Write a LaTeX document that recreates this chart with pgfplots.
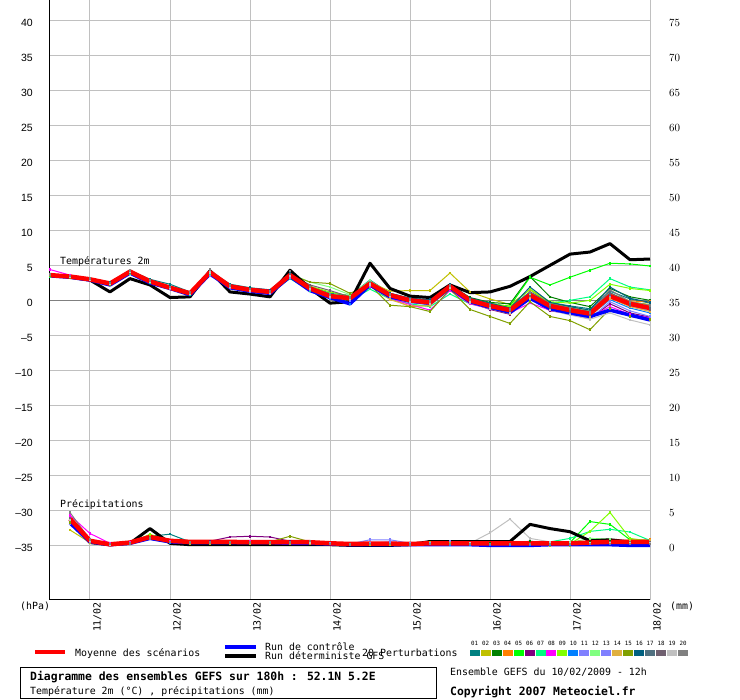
\documentclass[border=0pt]{standalone}
\usepackage{pgfplots}
\pgfplotsset{compat=1.18}
\usepackage{pgfplotstable}
\usepackage{fontspec}
\setmainfont{DejaVu Sans Mono}
\newfontfamily\tickfont{Liberation Sans}
\newcommand\lf{\fontsize{9.9}{11}\selectfont}
\newcommand\tf{\fontsize{11.4}{13}\selectfont\bfseries}
\newcommand\nf{\fontsize{5.8}{6}\selectfont}
\definecolor{c01}{HTML}{008080}
\definecolor{c02}{HTML}{C0C000}
\definecolor{c03}{HTML}{008000}
\definecolor{c04}{HTML}{FF8000}
\definecolor{c05}{HTML}{00FF00}
\definecolor{c06}{HTML}{800080}
\definecolor{c07}{HTML}{00FF80}
\definecolor{c08}{HTML}{FF00FF}
\definecolor{c09}{HTML}{80FF00}
\definecolor{c10}{HTML}{0080FF}
\definecolor{c11}{HTML}{8080FF}
\definecolor{c12}{HTML}{80FF80}
\definecolor{c13}{HTML}{8080FF}
\definecolor{c14}{HTML}{E0B040}
\definecolor{c15}{HTML}{80A000}
\definecolor{c16}{HTML}{006080}
\definecolor{c17}{HTML}{507080}
\definecolor{c18}{HTML}{706070}
\definecolor{c19}{HTML}{C0C0C0}
\definecolor{c20}{HTML}{808080}
\definecolor{gridc}{HTML}{C0C0C0}
\definecolor{zeroc}{HTML}{808080}
\definecolor{meanc}{HTML}{FF0000}
\definecolor{ctrlc}{HTML}{0000FF}

% temperature 2m (degC), one row per series, one column per 6 h step
\pgfplotstableread{
name c0 c1 c2 c3 c4 c5 c6 c7 c8 c9 c10 c11 c12 c13 c14 c15 c16 c17 c18 c19 c20 c21 c22 c23 c24 c25 c26 c27 c28 c29 c30
t 0 6 12 18 24 30 36 42 48 54 60 66 72 78 84 90 96 102 108 114 120 126 132 138 144 150 156 162 168 174 180
mean 3.6 3.4 3.0 2.4 4.1 2.7 1.8 1.0 4.0 2.0 1.5 1.2 3.6 1.7 0.6 0.3 2.4 0.75 0.0 -0.3 2.0 0.0 -0.8 -1.4 0.75 -0.8 -1.4 -1.9 0.6 -0.5 -1.1
det 3.6 3.3 2.9 1.2 3.1 2.2 0.4 0.5 4.2 1.2 0.9 0.5 4.3 1.7 -0.4 -0.2 5.3 1.7 0.6 0.4 2.2 1.1 1.2 2.0 3.4 5.0 6.6 6.9 8.1 5.8 5.9
ctrl 3.5 3.3 2.9 2.2 3.9 2.5 1.7 0.8 3.8 1.8 1.3 1.0 3.4 1.4 0.4 -0.5 2.2 0.5 -0.1 -0.4 1.8 -0.2 -1.0 -1.7 0.3 -1.2 -1.8 -2.3 -1.4 -2.1 -2.8
m01 3.7 3.5 3.1 2.6 4.3 3.0 2.3 1.2 4.2 2.3 1.8 1.5 3.8 2.0 1.0 0.7 2.9 1.0 0.3 0.0 2.3 0.3 -0.4 -1.0 1.2 -0.3 -0.8 -1.2 1.3 0.2 -0.4
m02 3.5 3.4 2.9 2.3 3.9 2.6 1.8 0.9 3.8 2.1 1.6 1.3 3.5 1.9 0.9 0.4 2.6 1.3 1.4 1.4 3.9 1.2 0.2 -0.6 1.5 -0.4 -1.0 -1.6 1.0 -0.2 -0.6
m03 3.6 3.4 3.0 2.5 4.2 2.8 1.9 1.1 4.1 2.1 1.6 1.3 3.9 1.8 0.7 0.4 2.6 0.9 0.2 -0.1 2.2 0.4 -0.3 -0.5 3.4 0.5 -0.3 -0.9 1.7 0.5 0.0
m04 3.5 3.3 2.9 2.3 4.0 2.6 1.7 0.9 3.9 1.9 1.3 1.0 3.5 1.5 0.4 0.1 2.2 0.3 -0.9 -0.7 1.8 -0.2 -1.0 -1.5 0.7 -0.6 -1.0 -1.5 1.0 -0.1 -0.2
m05 3.6 3.4 3.0 2.4 4.1 2.7 1.8 1.0 4.0 2.0 1.5 1.1 3.5 1.6 0.5 0.2 2.3 0.6 -0.1 -0.4 1.9 -0.1 -0.6 -0.8 3.3 2.2 3.3 4.3 5.3 5.2 4.9
m06 3.7 3.5 3.0 2.4 4.0 2.8 1.9 1.0 4.1 2.1 1.7 1.5 3.4 1.8 0.6 0.2 2.3 0.5 -0.2 -0.6 1.9 -0.3 -1.3 -2.0 0.3 -1.5 -1.9 -2.6 -0.5 -1.8 -2.4
m07 3.4 3.3 2.9 2.2 3.8 2.5 1.6 0.8 3.7 1.8 1.3 1.0 3.1 1.4 0.3 -0.1 1.6 0.2 -0.5 -0.9 0.9 -0.5 -1.1 -1.6 0.5 -0.4 0.0 0.5 3.1 1.9 1.5
m08 4.4 3.6 3.1 2.5 4.0 2.9 1.9 1.1 3.9 2.2 1.6 1.2 3.3 1.6 0.5 0.1 2.0 0.3 -0.6 -1.4 1.4 -0.5 -1.2 -1.8 -0.4 -1.4 -2.0 -2.4 -0.9 -2.0 -2.5
m09 3.6 3.4 3.0 2.4 4.2 2.7 1.9 1.0 4.0 2.0 1.5 1.2 3.7 2.0 1.2 0.6 2.5 0.8 0.1 -0.2 2.1 0.2 -0.4 -0.9 1.6 -0.2 -0.4 0.0 2.3 1.7 1.4
m10 3.5 3.3 2.9 2.3 4.0 2.6 1.7 0.9 3.9 1.9 1.4 1.1 3.5 1.6 0.3 -0.5 2.3 0.5 -0.3 -0.6 2.0 -0.2 -0.9 -1.6 0.8 -1.0 -1.7 -2.2 0.1 -1.1 -1.8
m11 3.5 3.3 2.9 2.3 3.9 2.6 1.7 0.9 3.5 1.8 1.3 1.0 3.3 1.5 0.4 0.0 2.1 0.4 -0.3 -0.6 1.6 -0.3 -1.1 -1.9 0.2 -1.2 -1.9 -2.6 -0.2 -1.5 -2.3
m12 3.6 3.4 3.0 2.4 4.1 2.8 1.9 1.1 4.0 2.1 1.6 1.3 3.8 2.6 1.9 0.8 2.8 0.9 0.1 -0.2 2.2 0.1 -0.7 -1.3 1.0 -0.6 -1.1 -1.5 0.9 -0.4 -0.8
m13 3.6 3.4 3.0 2.5 4.0 2.7 1.8 1.0 4.0 2.0 1.5 1.2 3.6 1.7 0.6 0.3 2.4 0.7 0.0 -0.3 2.0 0.0 -0.8 -1.5 0.6 -0.9 -1.5 -2.0 0.4 -0.8 -1.5
m14 3.5 3.3 2.9 2.3 4.0 2.6 1.8 0.9 3.9 1.9 1.4 1.1 3.5 1.6 0.5 0.2 2.3 0.1 -0.8 -0.8 1.7 -0.4 -1.2 -1.9 0.5 -1.0 -1.6 -2.3 0.3 -0.9 -1.6
m15 3.5 3.3 2.9 2.3 4.1 2.7 1.8 1.0 4.0 2.0 1.5 1.2 3.7 2.6 2.4 1.0 2.2 -0.7 -0.9 -1.6 1.6 -1.3 -2.3 -3.3 -0.2 -2.3 -2.9 -4.2 -1.2 -2.3 -2.7
m16 3.6 3.4 3.0 2.5 4.2 2.9 2.0 1.2 4.1 2.2 1.7 1.4 3.8 1.9 0.8 0.5 2.6 1.0 0.3 0.1 2.3 0.3 -0.4 -1.1 1.9 -0.3 -0.9 -1.4 1.9 0.3 -0.3
m17 3.7 3.4 3.0 2.4 4.1 2.8 1.9 1.1 4.1 2.1 1.6 1.3 3.7 1.8 0.7 0.4 2.5 0.8 0.1 -0.2 2.0 0.1 -0.6 -1.2 1.2 -0.5 -1.1 -1.6 1.1 -0.3 -0.9
m18 3.6 3.4 3.0 2.4 4.0 2.7 1.8 1.0 4.1 2.0 1.5 1.2 3.7 2.2 1.4 0.5 2.4 0.6 -0.1 -0.4 1.9 -0.1 -0.9 -1.6 0.6 -1.0 -1.6 -2.1 0.8 -0.7 -1.3
m19 3.6 3.4 3.0 2.4 4.1 2.7 1.8 1.0 4.0 1.9 1.4 1.1 3.5 1.6 0.5 0.2 2.3 0.6 -0.2 -0.5 1.8 -0.3 -1.2 -1.8 0.2 -1.4 -2.1 -2.7 -1.8 -2.8 -3.5
m20 3.7 3.5 3.1 2.5 4.3 2.8 1.9 1.1 4.4 2.1 1.6 1.3 4.2 1.9 0.8 0.4 2.6 0.8 0.1 -0.2 2.1 0.1 -0.7 -1.3 1.1 -0.6 -1.2 -1.7 1.5 -0.2 -0.7
}\traw
\pgfplotstabletranspose[colnames from=name]\temps{\traw}

% precipitation (mm), one row per series
\pgfplotstableread{
name c0 c1 c2 c3 c4 c5 c6 c7 c8 c9 c10 c11 c12 c13 c14 c15 c16 c17 c18 c19 c20 c21 c22 c23 c24 c25 c26 c27 c28 c29
t 6 12 18 24 30 36 42 48 54 60 66 72 78 84 90 96 102 108 114 120 126 132 138 144 150 156 162 168 174 180
mean 3.8 0.65 0.15 0.4 1.2 0.65 0.5 0.5 0.5 0.45 0.45 0.45 0.45 0.3 0.2 0.25 0.25 0.2 0.3 0.3 0.3 0.3 0.3 0.3 0.3 0.3 0.4 0.5 0.5 0.5
det 3.5 0.4 0.1 0.3 2.4 0.3 0.1 0.1 0.1 0.1 0.1 0.1 0.1 0.1 0.0 0.0 0.0 0.1 0.55 0.55 0.55 0.55 0.55 3.0 2.4 1.95 0.65 0.8 0.5 0.5
ctrl 3.2 0.5 0.1 0.3 1.0 0.5 0.4 0.4 0.4 0.4 0.4 0.3 0.3 0.2 0.1 0.1 0.1 0.1 0.1 0.1 0.1 0.0 0.0 0.0 0.1 0.1 0.1 0.1 0.0 0.0
p01 3.6 0.8 0.2 0.4 1.3 1.6 0.5 0.5 0.4 0.4 0.4 0.4 0.3 0.2 0.1 0.2 0.2 0.1 0.2 0.2 0.2 0.2 0.2 0.1 0.1 0.1 0.3 0.5 0.4 0.3
p02 2.2 0.4 0.1 0.2 1.5 0.4 0.3 0.3 0.3 0.3 0.3 0.3 0.3 0.2 0.1 0.1 0.1 0.2 0.5 0.3 0.2 0.1 0.1 0.1 0.0 0.0 0.2 0.3 0.2 0.3
p03 4.0 0.7 0.1 0.3 1.1 0.5 0.4 0.4 0.4 0.4 0.4 0.4 0.4 0.2 0.1 0.2 0.2 0.1 0.2 0.2 0.3 0.3 0.2 0.6 0.3 0.2 0.4 0.6 0.5 0.4
p04 3.9 0.6 0.1 0.3 0.9 0.4 0.5 0.5 0.4 0.4 0.4 0.4 0.4 0.2 0.1 0.3 0.3 0.2 0.2 0.2 0.2 0.2 0.2 0.2 0.3 0.2 0.3 0.4 0.8 0.8
p05 3.7 0.6 0.1 0.3 1.2 0.5 0.4 0.4 0.4 0.4 0.4 0.4 0.4 0.2 0.1 0.2 0.2 0.1 0.2 0.2 0.2 0.2 0.2 0.2 0.3 0.4 3.4 3.0 0.8 0.3
p06 3.8 0.7 0.1 0.3 1.0 0.5 0.5 0.6 1.2 1.3 1.2 0.6 0.4 0.2 0.1 0.2 0.2 0.1 0.2 0.2 0.2 0.2 0.2 0.2 0.2 0.2 0.3 0.4 0.4 0.4
p07 3.5 0.6 0.1 0.3 0.9 0.4 0.4 0.4 0.4 0.4 0.4 0.4 0.4 0.2 0.1 0.2 0.2 0.1 0.2 0.2 0.2 0.2 0.2 0.2 0.5 1.0 2.0 2.3 1.9 0.7
p08 4.3 1.7 0.3 0.4 1.1 0.6 0.4 0.4 0.5 0.6 0.5 0.4 0.4 0.2 0.1 0.2 0.2 0.1 0.2 0.2 0.2 0.2 0.2 0.2 0.2 0.2 0.3 0.3 0.3 0.3
p09 3.8 0.6 0.1 0.3 1.6 0.5 0.4 0.4 0.4 0.4 0.4 0.4 0.4 0.2 0.1 0.2 0.2 0.1 0.2 0.2 0.2 0.2 0.2 0.2 0.2 0.2 2.0 4.7 1.0 0.6
p10 3.4 0.5 0.1 0.3 0.9 0.4 0.4 0.4 0.4 0.4 0.4 0.4 0.4 0.2 0.1 0.2 0.2 0.1 0.2 0.1 0.1 0.1 0.1 0.1 0.1 0.1 0.2 0.2 0.2 0.2
p11 3.1 0.5 0.1 0.3 1.0 0.5 0.4 0.4 0.4 0.4 0.5 0.5 0.5 0.3 0.2 0.8 0.8 0.3 0.2 0.2 0.2 0.2 0.2 0.2 0.2 0.2 0.3 0.3 0.3 0.3
p12 3.9 0.7 0.2 0.3 1.0 0.5 0.4 0.4 0.4 0.4 0.4 0.4 0.4 0.2 0.1 0.2 0.2 0.1 0.2 0.2 0.2 0.2 0.2 0.2 0.2 0.4 1.0 0.9 0.5 0.4
p13 3.6 0.6 0.1 0.3 1.0 0.5 0.4 0.4 0.4 0.4 0.4 0.4 0.4 0.2 0.1 0.3 0.5 0.2 0.3 0.6 0.3 0.2 0.2 0.2 0.2 0.2 0.3 0.3 0.3 0.3
p14 3.7 0.6 0.1 0.3 1.0 0.5 0.4 0.4 0.4 0.4 0.4 0.4 0.4 0.2 0.1 0.2 0.2 0.1 0.2 0.2 0.2 0.2 0.2 0.2 0.2 0.2 0.3 0.4 0.6 0.7
p15 3.3 0.6 0.1 0.3 1.1 0.5 0.4 0.4 0.4 0.4 0.5 1.3 0.5 0.2 0.1 0.2 0.2 0.1 0.2 0.2 0.2 0.2 0.2 0.2 0.2 0.2 0.3 0.4 0.4 0.4
p16 3.9 0.6 0.1 0.3 1.0 0.5 0.4 0.4 0.4 0.4 0.4 0.4 0.4 0.2 0.1 0.2 0.2 0.1 0.2 0.2 0.2 0.2 0.2 0.2 0.2 0.2 0.3 0.5 0.5 0.5
p17 3.8 0.6 0.1 0.3 1.0 0.5 0.4 0.4 0.4 0.4 0.4 0.4 0.4 0.2 0.1 0.2 0.2 0.1 0.2 0.2 0.2 0.2 0.2 0.2 0.2 0.2 0.3 0.5 0.5 0.5
p18 3.9 0.6 0.1 0.3 1.0 0.5 0.4 0.4 0.4 0.4 0.4 0.4 0.4 0.2 0.1 0.2 0.2 0.1 0.2 0.2 0.2 0.2 0.2 0.2 0.2 0.2 0.3 0.5 0.5 0.5
p19 3.6 0.6 0.1 0.3 1.0 0.5 0.4 0.4 0.4 0.4 0.4 0.4 0.4 0.2 0.1 0.2 0.2 0.1 0.2 0.2 0.3 1.8 3.75 1.0 0.5 0.3 0.3 0.3 0.3 0.3
p20 4.7 0.8 0.2 0.3 1.0 0.5 0.4 0.4 0.4 0.4 0.4 0.4 0.6 0.2 0.1 0.2 0.2 0.1 0.2 0.2 0.2 0.2 0.2 0.2 0.2 0.2 0.2 0.2 0.2 0.2
}\praw
\pgfplotstabletranspose[colnames from=name]\precs{\praw}

\begin{document}
\begin{tikzpicture}[x=1pt,y=1pt]
\path[use as bounding box] (0pt,0pt) rectangle (740pt,700pt);
% ---------- temperature axis (left scale) ----------
\begin{axis}[
  at={(50pt,100pt)}, anchor=south west,
  scale only axis, width=600pt, height=600pt,
  xmin=0, xmax=180, ymin=-42.8, ymax=42.9,
  axis x line*=bottom, axis y line*=left,
  axis line style={black, line width=1pt, -},
  major tick length=0pt,
  xtick={12,36,60,84,108,132,156,180},
  xticklabels={11/02,12/02,13/02,14/02,15/02,16/02,17/02,18/02},
  xticklabel style={xshift=7.5pt, rotate=90, anchor=east, inner sep=0pt, font=\lf},
  xticklabel shift=2pt,
  ytick={-35,-30,-25,-20,-15,-10,-5,0,5,10,15,20,25,30,35,40},
  yticklabels={–35,–30,–25,–20,–15,–10,–5,0,5,10,15,20,25,30,35,40},
  yticklabel style={font=\tickfont\fontsize{10.5}{12}\selectfont, anchor=east, inner sep=0pt, xshift=-17pt, yshift=-2.5pt},
  xmajorgrids, ymajorgrids,
  major grid style={gridc, line width=1pt},
  extra y ticks={0}, extra y tick labels={},
  extra y tick style={major grid style={zeroc, line width=1pt}},
]
\pgfplotsinvokeforeach{01,02,03,04,05,06,07,08,09,10,11,12,13,14,15,16,17,18,19,20}{
  \addplot[color=c#1, line width=1pt, mark=square*, mark size=0.8pt] table[x=t, y=m#1] {\temps};
}
\addplot[black, line width=3pt, line join=round] table[x=t, y=det] {\temps};
\addplot[ctrlc, line width=3.5pt, line join=round] table[x=t, y=ctrl] {\temps};
\addplot[meanc, line width=4.5pt, line join=round] table[x=t, y=mean] {\temps};
\end{axis}
% ---------- precipitation axis (right scale) ----------
\begin{axis}[
  at={(50pt,100pt)}, anchor=south west,
  scale only axis, width=600pt, height=600pt,
  xmin=0, xmax=180, ymin=-7.8, ymax=77.9,
  axis line style={draw=none},
  major tick length=0pt,
  xtick=\empty,
  ytick={0,5,10,15,20,25,30,35,40,45,50,55,60,65,70,75},
  ytick pos=right, yticklabel pos=right,
  yticklabel style={font=\tickfont\fontsize{10.5}{12}\selectfont, anchor=west, inner sep=0pt, xshift=19pt, yshift=-2.5pt},
]
\pgfplotsinvokeforeach{01,02,03,04,05,06,07,08,09,10,11,12,13,14,15,16,17,18,19,20}{
  \addplot[color=c#1, line width=1pt, mark=square*, mark size=0.8pt] table[x=t, y=p#1] {\precs};
}
\addplot[black, line width=3pt, line join=round] table[x=t, y=det] {\precs};
\addplot[ctrlc, line width=3.5pt, line join=round] table[x=t, y=ctrl] {\precs};
\addplot[meanc, line width=4.5pt, line join=round] table[x=t, y=mean] {\precs};
\end{axis}
% ---------- labels ----------
\node[anchor=base west, inner sep=0pt, font=\lf] at (60,435) {Températures 2m};
\node[anchor=base west, inner sep=0pt, font=\lf] at (60,192.7) {Précipitations};
\node[anchor=base west, inner sep=0pt, font=\lf] at (20,90.7) {(hPa)};
\node[anchor=base west, inner sep=0pt, font=\lf] at (670,90.7) {(mm)};
% ---------- legend ----------
\draw[meanc, line width=4pt] (35,48) -- (65,48);
\node[anchor=base west, inner sep=0pt, font=\lf] at (75,43.3) {Moyenne des scénarios};
\draw[ctrlc, line width=4pt] (225,53.3) -- (256,53.3);
\draw[black, line width=4pt] (225,44) -- (256,44);
\node[anchor=base west, inner sep=0pt, font=\lf] at (265,49.3) {Run de contrôle};
\node[anchor=base west, inner sep=0pt, font=\lf] at (265,40) {Run déterministe GFS};
\node[anchor=base west, inner sep=0pt, font=\lf] at (362,43.3) {20 Perturbations};
\foreach \i [count=\k from 0] in {01,02,03,04,05,06,07,08,09,10,11,12,13,14,15,16,17,18,19,20}{
  \fill[c\i] (469.7+10.97*\k,44) rectangle ++(10,6);
  \node[anchor=base, inner sep=0pt, font=\nf] at (474.7+10.97*\k,54) {\i};
}
\draw[black, line width=1pt] (20.7,1) rectangle (436.7,32.7);
\node[anchor=base west, inner sep=0pt, font=\tf] at (30,19) {Diagramme des ensembles GEFS sur 180h : 52.1N 5.2E};
\node[anchor=base west, inner sep=0pt, font=\lf] at (30,5) {Température 2m (°C) , précipitations (mm)};
\node[anchor=base west, inner sep=0pt, font=\lf] at (450,24) {Ensemble GEFS du 10/02/2009 - 12h};
\node[anchor=base west, inner sep=0pt, font=\tf] at (450,4.3) {Copyright 2007 Meteociel.fr};
\end{tikzpicture}
\end{document}
